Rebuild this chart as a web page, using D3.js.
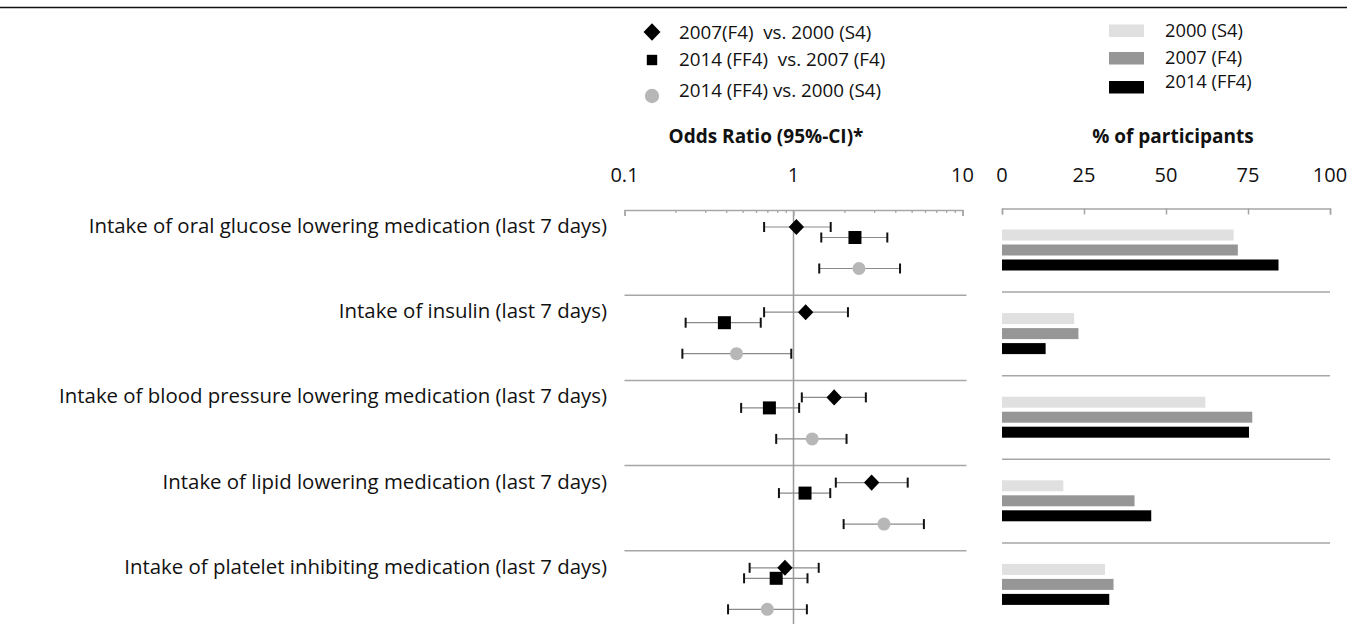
<!DOCTYPE html>
<html>
<head>
<meta charset="utf-8">
<script src="https://cdn.jsdelivr.net/npm/d3@7"></script>
<style>
  html, body { margin: 0; padding: 0; background: #fff; }
  svg { display: block; font-family: "Open Sans", Lato, sans-serif; }
  .pre { white-space: pre; }
</style>
</head>
<body>
<svg id="chart" width="1364" height="624"></svg>
<script>
// Medication categories (one row block each)
const categories = [
  "Intake of oral glucose lowering medication (last 7 days)",
  "Intake of insulin (last 7 days)",
  "Intake of blood pressure lowering medication (last 7 days)",
  "Intake of lipid lowering medication (last 7 days)",
  "Intake of platelet inhibiting medication (last 7 days)"
];

// Comparison series (odds ratios with 95% CI)
const comparisons = ["2007(F4)  vs. 2000 (S4)", "2014 (FF4)  vs. 2007 (F4)", "2014 (FF4) vs. 2000 (S4)"];
const or07vs00 = [1.04, 1.18, 1.74, 2.90, 0.89];
const lo07vs00 = [0.67, 0.67, 1.12, 1.78, 0.55];
const hi07vs00 = [1.66, 2.10, 2.68, 4.74, 1.41];
const or14vs07 = [2.31, 0.39, 0.72, 1.17, 0.79];
const lo14vs07 = [1.46, 0.23, 0.49, 0.82, 0.51];
const hi14vs07 = [3.59, 0.64, 1.08, 1.65, 1.21];
const or14vs00 = [2.44, 0.46, 1.29, 3.43, 0.70];
const lo14vs00 = [1.42, 0.22, 0.79, 1.98, 0.41];
const hi14vs00 = [4.27, 0.97, 2.06, 5.91, 1.20];

// Survey waves (% of participants)
const waves = ["2000 (S4)", "2007 (F4)", "2014 (FF4)"];
const pct2000 = [70.6, 22.0, 62.0, 18.7, 31.4];
const pct2007 = [71.9, 23.3, 76.3, 40.4, 34.0];
const pct2014 = [84.3, 13.3, 75.3, 45.5, 32.7];

// Tick labels
const orTicks = [0.1, 1, 10];
const pctTicks = [0, 25, 50, 75, 100];

const svg = d3.select("#chart");
const gridGray = "#a6a6a6";
const textColor = "#111";

// top rule
svg.append("line").attr("x1", 0).attr("x2", 1347).attr("y1", 7.5).attr("y2", 7.5)
  .attr("stroke", "#111").attr("stroke-width", 1.6);

// ---------- Forest plot ----------
const x = d3.scaleLog().domain([0.1, 10]).range([624.5, 962.5]);
const forestTop = 210;
const forestStep = 85.2;
const gy = d3.scaleLinear().domain([0, 1]).range([forestTop, forestTop + forestStep]);

const series = [
  { name: comparisons[0], est: or07vs00, lo: lo07vs00, hi: hi07vs00, shape: "diamond", off: 17 },
  { name: comparisons[1], est: or14vs07, lo: lo14vs07, hi: hi14vs07, shape: "square", off: 27.5 },
  { name: comparisons[2], est: or14vs00, lo: lo14vs00, hi: hi14vs00, shape: "circle", off: 58.5 }
];

const forest = svg.append("g");

// separators between category blocks
forest.selectAll("line.sep").data(d3.range(1, categories.length)).join("line")
  .attr("class", "sep")
  .attr("x1", x.range()[0]).attr("x2", x.range()[1] + 4)
  .attr("y1", d => gy(d)).attr("y2", d => gy(d))
  .attr("stroke", gridGray).attr("stroke-width", 1.5);

// reference line at OR = 1
forest.append("line")
  .attr("x1", x(1)).attr("x2", x(1))
  .attr("y1", forestTop).attr("y2", 624)
  .attr("stroke", "#9a9a9a").attr("stroke-width", 1.5);

// axis: minor ticks, then major ticks with the domain line
const minor = [];
for (const d of [0.1, 1]) for (let k = 2; k <= 9; k++) minor.push(d * k);
const axMinor = forest.append("g").attr("transform", `translate(0,${forestTop})`)
  .call(d3.axisBottom(x).tickValues(minor).tickSize(3).tickFormat(""));
axMinor.select(".domain").remove();
const axMajor = forest.append("g").attr("transform", `translate(0,${forestTop})`)
  .call(d3.axisBottom(x).tickValues(orTicks).tickSizeInner(6).tickSizeOuter(6).tickFormat(""));
[axMinor, axMajor].forEach(a => {
  a.selectAll("line").attr("stroke", gridGray).attr("stroke-width", 1.3);
  a.select(".domain").attr("stroke", gridGray).attr("stroke-width", 1.5);
});

forest.selectAll("text.ortick").data(orTicks).join("text")
  .attr("class", "ortick")
  .attr("x", d => x(d)).attr("y", 182)
  .attr("text-anchor", "middle").attr("font-size", 20).attr("fill", textColor)
  .text(d => d3.format("~g")(d));

forest.append("text").attr("x", 766).attr("y", 143)
  .attr("text-anchor", "middle").attr("font-size", 19).attr("font-weight", "bold").attr("fill", textColor)
  .text("Odds Ratio (95%-CI)*");

// markers
function drawMarker(sel, shape, cx, cy, scale) {
  const s = scale || 1;
  if (shape === "diamond") {
    sel.append("path")
      .attr("d", d3.symbol().type(d3.symbolDiamond2).size(150 * s * s)())
      .attr("transform", `translate(${cx},${cy}) scale(1,1.05)`)
      .attr("fill", "#000");
  } else if (shape === "square") {
    sel.append("rect").attr("x", cx - 6.5 * s).attr("y", cy - 6.5 * s)
      .attr("width", 13 * s).attr("height", 13 * s).attr("fill", "#000");
  } else {
    sel.append("circle").attr("cx", cx).attr("cy", cy).attr("r", 6.5 * s).attr("fill", "#b7b7b7");
  }
}

series.forEach(s => {
  categories.forEach((c, i) => {
    const cy = gy(i) + s.off;
    const g = forest.append("g");
    g.append("line").attr("x1", x(s.lo[i])).attr("x2", x(s.hi[i]))
      .attr("y1", cy).attr("y2", cy).attr("stroke", "#8a8a8a").attr("stroke-width", 1.2);
    [s.lo[i], s.hi[i]].forEach(v => {
      g.append("line").attr("x1", x(v)).attr("x2", x(v))
        .attr("y1", cy - 5).attr("y2", cy + 5).attr("stroke", "#111").attr("stroke-width", 2);
    });
    drawMarker(g, s.shape, x(s.est[i]), cy);
  });
});

// category labels
svg.selectAll("text.cat").data(categories).join("text")
  .attr("class", "cat")
  .attr("x", 607).attr("y", (d, i) => gy(i) + 23)
  .attr("text-anchor", "end").attr("font-size", 20.4).attr("fill", textColor)
  .text(d => d);

// legend for comparisons
const leg1 = svg.append("g");
const leg1Y = [32, 60, 96];
const leg1TextY = [32, 59, 90];
series.forEach((s, i) => {
  drawMarker(leg1, s.shape, 652, leg1Y[i], s.shape === "square" ? 0.8 : 1.1);
  leg1.append("text").attr("class", "pre")
    .attr("x", 679).attr("y", leg1TextY[i]).attr("dy", "0.35em")
    .attr("font-size", 18.8).attr("fill", textColor).text(s.name);
});

// ---------- Bar chart ----------
const xb = d3.scaleLinear().domain([0, 100]).range([1002, 1330]);
const barTop = 208.5;
const barStep = 83.6;
const gb = d3.scaleLinear().domain([0, 1]).range([barTop, barTop + barStep]);
const barColors = ["#e0e0e0", "#969696", "#000000"];
const barSeries = [pct2000, pct2007, pct2014];
const barOff = [21, 36, 51];
const barH = 11;

const bars = svg.append("g");
bars.selectAll("line.sep").data(d3.range(1, categories.length)).join("line")
  .attr("class", "sep")
  .attr("x1", xb.range()[0]).attr("x2", xb.range()[1])
  .attr("y1", d => gb(d)).attr("y2", d => gb(d))
  .attr("stroke", gridGray).attr("stroke-width", 1.5);

const axB = bars.append("g").attr("transform", `translate(0,${barTop})`)
  .call(d3.axisBottom(xb).tickValues(pctTicks).tickSizeInner(6).tickSizeOuter(6).tickFormat(""));
axB.selectAll("line").attr("stroke", gridGray).attr("stroke-width", 1.5);
axB.select(".domain").attr("stroke", gridGray).attr("stroke-width", 1.5);

bars.selectAll("text.pcttick").data(pctTicks).join("text")
  .attr("class", "pcttick")
  .attr("x", d => xb(d)).attr("y", 182)
  .attr("text-anchor", "middle").attr("font-size", 20).attr("fill", textColor)
  .text(d => d);

bars.append("text").attr("x", 1173).attr("y", 143)
  .attr("text-anchor", "middle").attr("font-size", 19).attr("font-weight", "bold").attr("fill", textColor)
  .text("% of participants");

barSeries.forEach((vals, k) => {
  bars.append("g").selectAll("rect").data(vals).join("rect")
    .attr("x", xb(0))
    .attr("y", (d, i) => gb(i) + barOff[k])
    .attr("width", d => xb(d) - xb(0))
    .attr("height", barH)
    .attr("fill", barColors[k]);
});

// legend for survey waves
const leg2 = svg.append("g");
const leg2Y = [24.5, 52, 81];
const leg2TextY = [31, 58, 82];
waves.forEach((w, k) => {
  leg2.append("rect").attr("x", 1109).attr("y", leg2Y[k]).attr("width", 35).attr("height", 12.5)
    .attr("fill", barColors[k]);
  leg2.append("text").attr("x", 1165).attr("y", leg2TextY[k]).attr("dy", "0.35em")
    .attr("font-size", 18.3).attr("fill", textColor).text(w);
});
</script>
</body>
</html>
